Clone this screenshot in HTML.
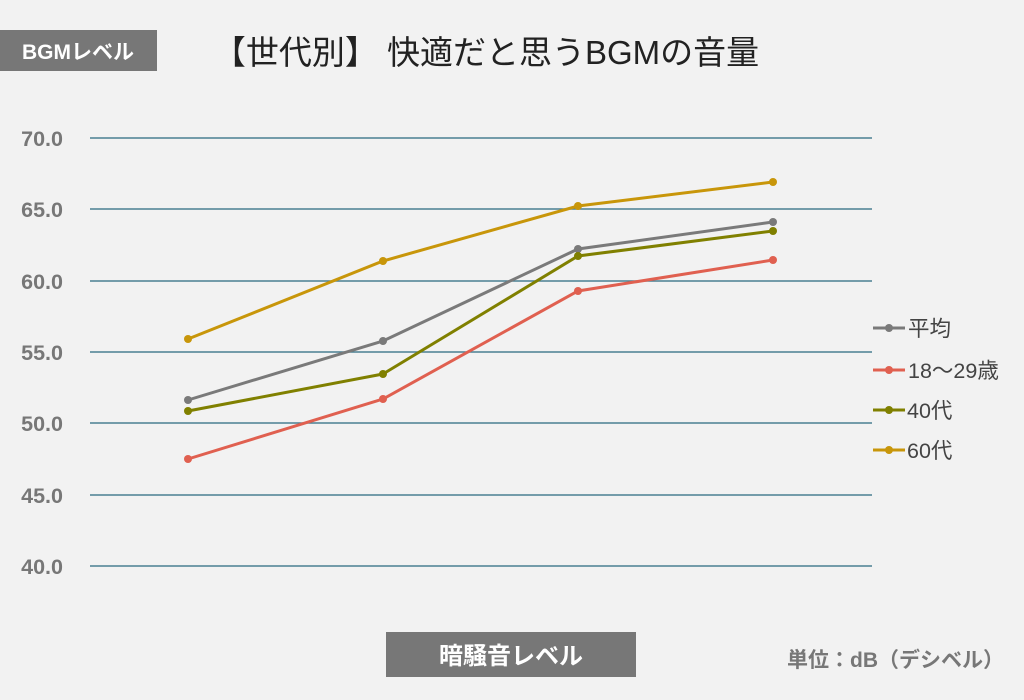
<!DOCTYPE html><html><head><meta charset="utf-8"><style>body{margin:0;background:#f2f2f2}svg{display:block}text{font-family:"Liberation Sans","Noto Sans CJK JP",sans-serif}</style></head><body>
<svg width="1024" height="700" viewBox="0 0 1024 700">
<rect width="1024" height="700" fill="#f2f2f2"/>
<rect x="0" y="30" width="157" height="41" fill="#777"/>
<text x="78" y="59" font-size="21" font-weight="bold" fill="#fff" text-anchor="middle">BGMレベル</text>
<text x="486" y="64" font-size="33" fill="#222" text-anchor="middle">【世代別】 快適だと思うBGMの音量</text>
<g stroke="#4a7f92" stroke-width="1.5">
<line x1="90" y1="138" x2="872" y2="138"/><line x1="90" y1="209" x2="872" y2="209"/><line x1="90" y1="281" x2="872" y2="281"/><line x1="90" y1="352" x2="872" y2="352"/><line x1="90" y1="423" x2="872" y2="423"/><line x1="90" y1="495" x2="872" y2="495"/><line x1="90" y1="566" x2="872" y2="566"/></g>
<g font-size="21.5" font-weight="bold" fill="#777" text-anchor="end">
<text x="63" y="146">70.0</text><text x="63" y="217">65.0</text><text x="63" y="289">60.0</text><text x="63" y="360">55.0</text><text x="63" y="431">50.0</text><text x="63" y="503">45.0</text><text x="63" y="574">40.0</text></g>
<g fill="none" stroke-width="3">
<polyline points="188,339 383,261 578,206 773,182" stroke="#c8960a"/>
<polyline points="188,400 383,341 578,249 773,222" stroke="#7a7a7a"/>
<polyline points="188,411 383,374 578,256 773,231" stroke="#808000"/>
<polyline points="188,459 383,399 578,291 773,260" stroke="#e06050"/>
</g>
<g fill="#c8960a"><circle cx="188" cy="339" r="4"/><circle cx="383" cy="261" r="4"/><circle cx="578" cy="206" r="4"/><circle cx="773" cy="182" r="4"/></g>
<g fill="#7a7a7a"><circle cx="188" cy="400" r="4"/><circle cx="383" cy="341" r="4"/><circle cx="578" cy="249" r="4"/><circle cx="773" cy="222" r="4"/></g>
<g fill="#808000"><circle cx="188" cy="411" r="4"/><circle cx="383" cy="374" r="4"/><circle cx="578" cy="256" r="4"/><circle cx="773" cy="231" r="4"/></g>
<g fill="#e06050"><circle cx="188" cy="459" r="4"/><circle cx="383" cy="399" r="4"/><circle cx="578" cy="291" r="4"/><circle cx="773" cy="260" r="4"/></g>
<g stroke-width="3">
<line x1="873" y1="328" x2="905" y2="328" stroke="#7a7a7a"/><circle cx="889" cy="328" r="4" fill="#7a7a7a"/>
<line x1="873" y1="370" x2="905" y2="370" stroke="#e06050"/><circle cx="889" cy="370" r="4" fill="#e06050"/>
<line x1="873" y1="410" x2="905" y2="410" stroke="#808000"/><circle cx="889" cy="410" r="4" fill="#808000"/>
<line x1="873" y1="450" x2="905" y2="450" stroke="#c8960a"/><circle cx="889" cy="450" r="4" fill="#c8960a"/></g>
<g font-size="21.5" fill="#444"><text x="908" y="336">平均</text><text x="908" y="378">18～29歳</text><text x="907" y="418">40代</text><text x="907" y="458">60代</text></g>
<rect x="386" y="632" width="250" height="45" fill="#777"/>
<text x="511" y="664" font-size="24" font-weight="bold" fill="#fff" text-anchor="middle">暗騒音レベル</text>
<text x="1004" y="667" font-size="21" font-weight="bold" fill="#777" text-anchor="end">単位：dB（デシベル）</text>
</svg></body></html>
